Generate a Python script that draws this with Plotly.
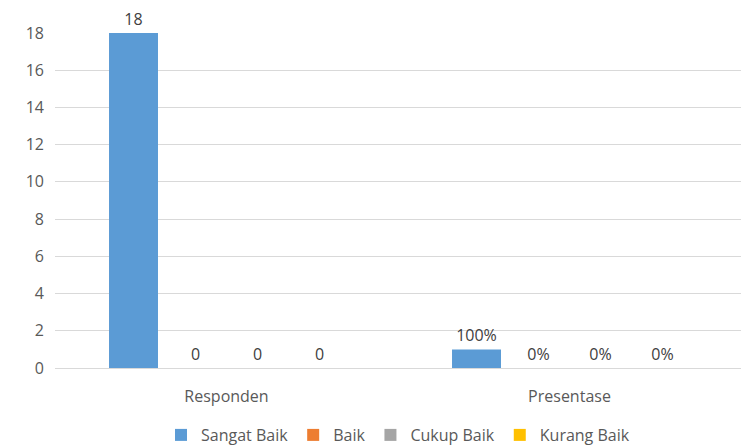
import plotly.graph_objects as go

categories = ["Responden", "Presentase"]
series_names = ["Sangat Baik", "Baik", "Cukup Baik", "Kurang Baik"]
colors = ["#5B9BD5", "#ED7D31", "#A5A5A5", "#FFC000"]
sangat_baik = [18, 1]
baik = [0, 0]
cukup_baik = [0, 0]
kurang_baik = [0, 0]
labels = [["18", "100%"], ["0", "0%"], ["0", "0%"], ["0", "0%"]]
y_ticks = [0, 2, 4, 6, 8, 10, 12, 14, 16, 18]

values = [sangat_baik, baik, cukup_baik, kurang_baik]
font = "Open Sans"
txtcol = "#595959"

fig = go.Figure()
for name, vals, col, lab in zip(series_names, values, colors, labels):
    fig.add_trace(go.Bar(
        name=name, x=categories, y=vals, marker_color=col, marker_line_width=0,
        text=lab, textposition="outside", cliponaxis=False,
        textfont=dict(family=font, size=16, color="#404040"),
    ))

fig.update_layout(
    width=746, height=440, barmode="group", bargap=0.277, bargroupgap=0.21,
    plot_bgcolor="white", paper_bgcolor="white",
    margin=dict(l=47, r=13, t=25, b=80, autoexpand=False),
    font=dict(family=font, size=16, color=txtcol),
    showlegend=True,
    legend=dict(orientation="h", x=0.5, xanchor="center", y=-0.2, yanchor="middle",
                font=dict(family=font, size=16, color=txtcol), itemwidth=30,
                traceorder="normal", tracegroupgap=0),
    uniformtext=dict(minsize=16, mode="show"),
)
fig.update_yaxes(range=[0, 18], tickvals=y_ticks, showgrid=True, gridcolor="#D9D9D9",
                 zeroline=False, showline=False, ticks="", ticklabelstandoff=10,
                 automargin=False,
                 tickfont=dict(family=font, size=16, color=txtcol))
fig.update_xaxes(showline=True, linecolor="#D9D9D9", ticks="", ticklabelstandoff=14,
                 automargin=False,
                 tickfont=dict(family=font, size=16, color=txtcol))

fig.write_html("out.html")
